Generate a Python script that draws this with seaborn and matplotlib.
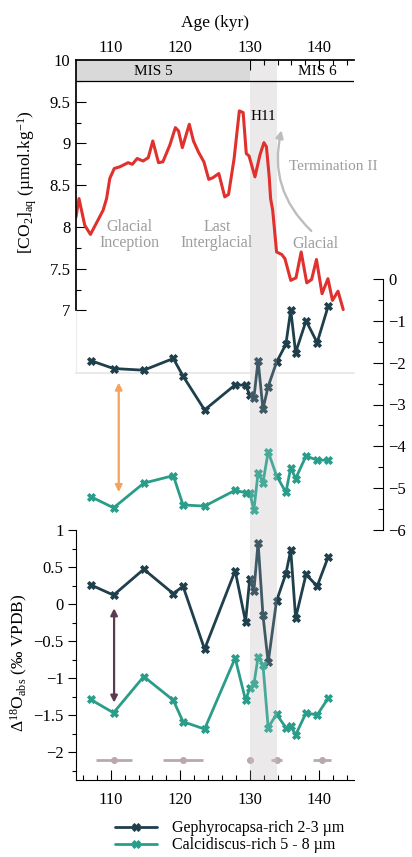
import numpy as np
import pandas as pd
import matplotlib
matplotlib.use("Agg")
import matplotlib.pyplot as plt
import seaborn as sns
from matplotlib.patches import FancyArrowPatch, Rectangle
from matplotlib.lines import Line2D
from matplotlib.ticker import FixedLocator, FuncFormatter

# ── DATA ─────────────────────────────────────────────────────────────────────
co2_age = [105.0, 105.43, 106.26, 107.08, 107.9, 108.9, 109.4, 109.86, 110.5, 111.3,
           112.5, 113.1, 113.8, 114.65, 115.4, 116.05, 116.87, 117.5, 118.5, 119.3,
           119.75, 120.3, 121.3, 121.9, 122.6, 123.4, 124.1, 124.7, 125.55, 126.4,
           126.95, 127.75, 128.5, 129.05, 129.5, 129.9, 130.75, 131.46, 132.04, 132.4,
           132.8, 133.0, 133.3, 133.86, 134.6, 135.06, 135.9, 136.65, 137.4, 138.2,
           138.9, 139.6, 140.4, 141.25, 141.9, 142.7, 143.45]
co2_val = [8.12, 8.34, 8.02, 7.91, 8.04, 8.20, 8.34, 8.58, 8.70, 8.72,
           8.77, 8.75, 8.82, 8.79, 8.83, 9.03, 8.77, 8.78, 8.98, 9.19,
           9.15, 8.95, 9.23, 9.03, 8.90, 8.78, 8.57, 8.59, 8.64, 8.36,
           8.39, 8.82, 9.39, 9.37, 8.88, 8.85, 8.60, 8.86, 9.01, 8.96,
           8.60, 8.34, 8.20, 7.70, 7.67, 7.62, 7.36, 7.39, 7.70, 7.33,
           7.37, 7.61, 7.20, 7.38, 7.12, 7.23, 7.01]

cocco_age = [107.1, 110.4, 114.75, 119.0, 120.4, 123.5, 127.9, 129.4, 130.0, 130.6,
             131.2, 131.9, 132.65, 133.85, 135.2, 135.9, 136.6, 138.1, 139.7, 141.3]
gephy_d13 = [-1.95, -2.14, -2.18, -1.90, -2.32, -3.13, -2.53, -2.54, -2.77, -2.84,
             -1.95, -3.11, -2.57, -1.99, -1.56, -0.74, -1.76, -1.00, -1.52, -0.64]
calci_d13 = [-5.20, -5.47, -4.88, -4.70, -5.40, -5.43, -5.05, -5.11, -5.12, -5.52,
             -4.63, -4.87, -4.13, -4.70, -5.10, -4.51, -4.77, -4.23, -4.33, -4.33]
gephy_d18 = [0.26, 0.12, 0.47, 0.14, 0.24, -0.61, 0.45, -0.24, 0.34, 0.18,
             0.83, -0.15, -0.79, 0.04, 0.41, 0.73, -0.19, 0.40, 0.24, 0.64]
calci_d18 = [-1.29, -1.47, -0.98, -1.30, -1.59, -1.69, -0.73, -1.30, -1.14, -1.08,
             -0.72, -0.82, -1.67, -1.49, -1.67, -1.65, -1.77, -1.47, -1.50, -1.27]

# age-model uncertainty bars
err_age = [110.5, 120.4, 130.0, 133.9, 140.4]
err_half = [2.6, 2.9, 0.4, 0.8, 1.3]
err_level = -2.11

h11_start, h11_end = 130.1, 133.85
mis_boundary = 130.0

series_labels = ["Gephyrocapsa-rich 2-3 µm", "Calcidiscus-rich 5 - 8 µm"]
series_colors = ["#1f3f4c", "#2a9d8a"]
red = "#e0312f"
band_color = "#ece9eb"
note_grey = "#9c9c9c"

# ── STYLE ────────────────────────────────────────────────────────────────────
sns.set_theme(style="ticks")
plt.rcParams["font.family"] = ["Liberation Serif", "DejaVu Serif"]
plt.rcParams["mathtext.fontset"] = "custom"
plt.rcParams["mathtext.rm"] = "Liberation Serif"
plt.rcParams["mathtext.it"] = "Liberation Serif:italic"
plt.rcParams["axes.edgecolor"] = "black"
plt.rcParams["text.color"] = "black"
plt.rcParams["xtick.color"] = "black"
plt.rcParams["ytick.color"] = "black"
plt.rcParams["axes.labelcolor"] = "black"

W, H = 412, 857
fig = plt.figure(figsize=(W / 100, H / 100), dpi=100)


def box(x0, y0, x1, y1):
    return [x0 / W, 1 - y1 / H, (x1 - x0) / W, (y1 - y0) / H]


def solid_markers(ax):
    # seaborn draws white marker edges; the figure uses filled crosses
    for ln in ax.lines:
        ln.set_markeredgecolor(ln.get_color())


fmt = FuncFormatter(lambda v, p: f"{v:g}".replace("-", "\u2212"))

# background band (H11) spanning all panels
ax_bg = fig.add_axes(box(76, 60, 354, 780))
ax_bg.set_xlim(105, 145)
ax_bg.axvspan(h11_start, h11_end, color=band_color, lw=0)
ax_bg.axis("off")

# ── TOP: CO2 ────────────────────────────────────────────────────────────────
ax_top = fig.add_axes(box(76, 60, 354, 373))
ax_top.set_facecolor("none")
sns.lineplot(x=co2_age, y=co2_val, ax=ax_top, color=red, lw=2.2, sort=False)
ax_top.set_xlim(105, 145)
ax_top.set_ylim(6.25, 10)

ax_top.add_patch(Rectangle((105, 9.75), mis_boundary - 105, 0.25,
                           facecolor="#d9d9d9", edgecolor="none", zorder=1))
ax_top.plot([105, 145], [9.75, 9.75], color="black", lw=0.9, zorder=3)
ax_top.text(116.1, 9.86, "MIS 5", ha="center", va="center", fontsize=11)
ax_top.text(139.8, 9.86, "MIS 6", ha="center", va="center", fontsize=11)

ax_top.spines["right"].set_visible(False)
ax_top.spines["bottom"].set_color("#e6e6e6")
ax_top.spines["left"].set_bounds(7, 10)
ax_top.plot([105, 105], [6.25, 7], color="#ececec", lw=0.8, clip_on=False)

ax_top.yaxis.set_major_locator(FixedLocator(np.arange(7, 10.01, 0.5)))
ax_top.yaxis.set_minor_locator(FixedLocator(np.arange(7, 10.01, 0.25)))
ax_top.yaxis.set_major_formatter(fmt)
ax_top.tick_params(axis="y", which="major", direction="in", length=7, width=0.8,
                   labelsize=12, pad=4)
ax_top.tick_params(axis="y", which="minor", direction="in", length=3.5, width=0.8)

ax_top.xaxis.tick_top()
ax_top.xaxis.set_label_position("top")
ax_top.xaxis.set_major_locator(FixedLocator([110, 120, 130, 140]))
ax_top.xaxis.set_minor_locator(FixedLocator(np.arange(106, 145, 2)))
ax_top.tick_params(axis="x", which="major", direction="in", length=7, width=0.8,
                   labelsize=12, pad=3)
ax_top.tick_params(axis="x", which="minor", direction="in", length=3.5, width=0.8)
ax_top.set_xlabel("Age (kyr)", fontsize=12.5, labelpad=9)
ax_top.set_ylabel("[CO$_2$]$_{\\mathrm{aq}}$ (µmol.kg$^{-1}$)", fontsize=12.5)
ax_top.yaxis.set_label_coords(-0.133, 0.61)

ax_top.text(131.9, 9.32, "H11", ha="center", va="center", fontsize=11)
ax_top.text(142.0, 8.73, "Termination II", ha="center", va="center",
            fontsize=11, color=note_grey, clip_on=False)
ax_top.text(112.66, 7.90, "Glacial\nInception", ha="center", va="center",
            fontsize=11.5, color=note_grey, linespacing=1.0)
ax_top.text(125.3, 7.90, "Last\nInterglacial", ha="center", va="center",
            fontsize=11.5, color=note_grey, linespacing=1.0)
ax_top.text(139.4, 7.80, "Glacial", ha="center", va="center",
            fontsize=11.5, color=note_grey)
ax_top.add_patch(FancyArrowPatch((139.14, 7.93), (134.67, 9.19),
                                 connectionstyle="arc3,rad=-0.3",
                                 arrowstyle="-|>", mutation_scale=11,
                                 color="#bdbdbd", lw=1.7))

# ── MIDDLE: right-hand axis ──────────────────────────────────────────────────
ax_mid = fig.add_axes(box(76, 279, 354, 530))
ax_mid.set_facecolor("none")
mid = pd.DataFrame({
    "age": cocco_age * 2,
    "val": gephy_d13 + calci_d13,
    "series": [series_labels[0]] * len(cocco_age) + [series_labels[1]] * len(cocco_age),
})
sns.lineplot(data=mid, x="age", y="val", hue="series", palette=series_colors,
             marker="X", markersize=6, mew=0.6, lw=2.0, ax=ax_mid, legend=False)
solid_markers(ax_mid)
ax_mid.axvspan(h11_start, h11_end, color=band_color, alpha=0.16, lw=0, zorder=5)
ax_mid.set_xlim(105, 145)
ax_mid.set_ylim(-6, 0)
for s in ["left", "top", "bottom"]:
    ax_mid.spines[s].set_visible(False)
ax_mid.spines["right"].set_position(("outward", 20.7))
ax_mid.spines["right"].set_linewidth(0.8)
ax_mid.xaxis.set_visible(False)
ax_mid.yaxis.tick_right()
ax_mid.yaxis.set_major_locator(FixedLocator(np.arange(-6, 0.01, 1)))
ax_mid.yaxis.set_minor_locator(FixedLocator(np.arange(-6, 0.01, 0.5)))
ax_mid.yaxis.set_major_formatter(fmt)
ax_mid.tick_params(axis="y", which="major", direction="in", length=7, width=0.8,
                   labelsize=12, pad=4)
ax_mid.tick_params(axis="y", which="minor", direction="in", length=3.5, width=0.8)
ax_mid.set_xlabel("")
ax_mid.set_ylabel("")
ax_mid.add_patch(FancyArrowPatch((111.15, -2.41), (111.15, -5.16),
                                 arrowstyle="<|-|>", mutation_scale=10,
                                 color="#f3a35d", lw=1.6, zorder=4))

# ── BOTTOM: Δ18O ─────────────────────────────────────────────────────────────
ax_bot = fig.add_axes(box(76, 530, 354, 780))
ax_bot.set_facecolor("none")
bot = pd.DataFrame({
    "age": cocco_age * 2,
    "val": gephy_d18 + calci_d18,
    "series": [series_labels[0]] * len(cocco_age) + [series_labels[1]] * len(cocco_age),
})
sns.lineplot(data=bot, x="age", y="val", hue="series", palette=series_colors,
             marker="X", markersize=6, mew=0.6, lw=2.0, ax=ax_bot, legend=False)
solid_markers(ax_bot)
ax_bot.errorbar(err_age, [err_level] * len(err_age), xerr=err_half, fmt="o",
                color="#b9a8af", ms=4, lw=2, capsize=0, zorder=3)
ax_bot.axvspan(h11_start, h11_end, color=band_color, alpha=0.16, lw=0, zorder=5)
ax_bot.set_xlim(105, 145)
ax_bot.set_ylim(-2.378, 1.0)
ax_bot.spines["right"].set_visible(False)
ax_bot.spines["top"].set_visible(False)
ax_bot.spines["left"].set_linewidth(0.8)
ax_bot.spines["bottom"].set_linewidth(0.8)
ax_bot.yaxis.set_major_locator(FixedLocator(np.arange(-2, 1.01, 0.5)))
ax_bot.yaxis.set_minor_locator(FixedLocator(np.arange(-2.25, 1.01, 0.25)))
ax_bot.yaxis.set_major_formatter(fmt)
ax_bot.tick_params(axis="y", which="major", direction="out", length=6, width=0.8,
                   labelsize=12, pad=3)
ax_bot.tick_params(axis="y", which="minor", direction="out", length=3, width=0.8)
ax_bot.xaxis.set_major_locator(FixedLocator([110, 120, 130, 140]))
ax_bot.xaxis.set_minor_locator(FixedLocator(np.arange(106, 145, 2)))
ax_bot.tick_params(axis="x", which="major", direction="in", length=7, width=0.8,
                   labelsize=12, pad=9)
ax_bot.tick_params(axis="x", which="minor", direction="in", length=3.5, width=0.8)
ax_bot.set_xlabel("")
ax_bot.set_ylabel("Δ$^{18}$O$_{\\mathrm{abs}}$ (‰ VPDB)", fontsize=12.5)
ax_bot.yaxis.set_label_coords(-0.165, 0.47)
ax_bot.add_patch(FancyArrowPatch((110.48, -0.02), (110.48, -1.37),
                                 arrowstyle="<|-|>", mutation_scale=10,
                                 color="#5b3b51", lw=1.6, zorder=4))

# ── LEGEND ───────────────────────────────────────────────────────────────────
handles = [Line2D([], [], color=c, lw=2.0, marker="X", markersize=6, mew=0.6)
           for c in series_colors]
fig.legend(handles, series_labels, loc="center left",
           bbox_to_anchor=(115 / W, 1 - 836.75 / H), frameon=False,
           fontsize=11.5, handlelength=2.6, handletextpad=1.0,
           labelspacing=0.05, borderpad=0, borderaxespad=0)

fig.savefig("out.png", dpi=100)
